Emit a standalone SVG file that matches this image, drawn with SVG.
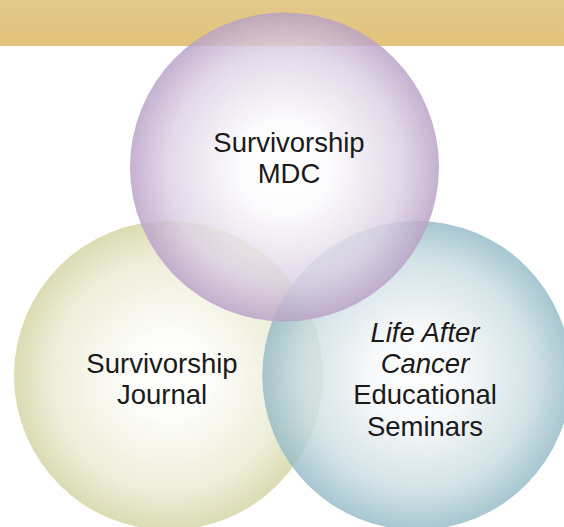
<svg xmlns="http://www.w3.org/2000/svg" width="564" height="527" viewBox="0 0 564 527">
  <defs>
    <linearGradient id="band" x1="0" y1="0" x2="0" y2="1">
      <stop offset="0" stop-color="#e2c98b"/>
      <stop offset="1" stop-color="#e3c37c"/>
    </linearGradient>
    <radialGradient id="purple" cx="0.5" cy="0.5" r="0.5">
      <stop offset="0" stop-color="#ffffff"/>
      <stop offset="0.3" stop-color="#fbfafc"/>
      <stop offset="0.75" stop-color="#ddd1e4"/>
      <stop offset="1" stop-color="#b8a0c7"/>
    </radialGradient>
    <radialGradient id="olive" cx="0.5" cy="0.5" r="0.5">
      <stop offset="0" stop-color="#ffffff"/>
      <stop offset="0.3" stop-color="#fbfbf6"/>
      <stop offset="0.75" stop-color="#eaead2"/>
      <stop offset="1" stop-color="#d3d4a2"/>
    </radialGradient>
    <radialGradient id="teal" cx="0.5" cy="0.5" r="0.5">
      <stop offset="0" stop-color="#ffffff"/>
      <stop offset="0.3" stop-color="#f5f7f8"/>
      <stop offset="0.75" stop-color="#c9dce2"/>
      <stop offset="1" stop-color="#93bac6"/>
    </radialGradient>
    <style>
      .bubble { opacity: 0.82; }
      .label { font-family: "Liberation Sans", Arial, Helvetica, sans-serif; font-size: 27.5px; fill: #1a1a1a; text-anchor: middle; }
      .em { font-style: italic; }
    </style>
  </defs>

  <!-- header band -->
  <rect x="0" y="0" width="564" height="46" fill="url(#band)"/>

  <!-- left circle -->
  <g id="journal">
    <circle class="bubble" cx="168.5" cy="375.5" r="154.5" fill="url(#olive)"/>
    <text class="label" x="162" y="372.7">Survivorship</text>
    <text class="label" x="162" y="404">Journal</text>
  </g>

  <!-- right circle -->
  <g id="seminars">
    <circle class="bubble" cx="416.8" cy="375.5" r="154.5" fill="url(#teal)"/>
    <text class="label em" x="425" y="341.7">Life After</text>
    <text class="label em" x="425" y="372.7">Cancer</text>
    <text class="label" x="425" y="404">Educational</text>
    <text class="label" x="425" y="436">Seminars</text>
  </g>

  <!-- top circle -->
  <g id="mdc">
    <circle class="bubble" cx="284.5" cy="167" r="154.5" fill="url(#purple)"/>
    <text class="label" x="289" y="151.7">Survivorship</text>
    <text class="label" x="289" y="182.7">MDC</text>
  </g>

  <g id="connectors"/>
</svg>
